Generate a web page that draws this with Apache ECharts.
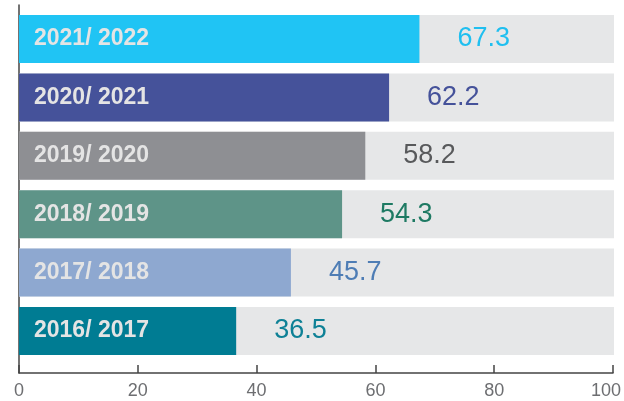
<!DOCTYPE html>
<html>
<head>
<meta charset="utf-8">
<script src="https://cdn.jsdelivr.net/npm/echarts@6/dist/echarts.min.js"></script>
<style>html,body{margin:0;padding:0;background:#fff;}#c{width:624px;height:401px;}</style>
</head>
<body>
<div id="c"></div>
<script>
const categories = ['2016/ 2017', '2017/ 2018', '2018/ 2019', '2019/ 2020', '2020/ 2021', '2021/ 2022'];
const values = [36.5, 45.7, 54.3, 58.2, 62.2, 67.3];
const barColors = ['#007C93', '#8EA8D0', '#5E9488', '#8E8F93', '#45529A', '#20C4F4'];
const labelColors = ['#0E8196', '#4E7DB5', '#1E7A63', '#58595B', '#45529A', '#1FBFF0'];
const xTicks = [0, 20, 40, 60, 80, 100];

const FONT = '"Liberation Sans", Arial, sans-serif';
const chart = echarts.init(document.getElementById('c'), null, {renderer: 'canvas'});
chart.setOption({
  animation: false,
  grid: [
    {left: 19, right: 10, top: 9.8, bottom: 40.8},
    {left: 19, right: 10, top: 5, bottom: 28}
  ],
  xAxis: [
    {gridIndex: 0, type: 'value', min: xTicks[0], max: xTicks[xTicks.length - 1], show: false},
    {
      gridIndex: 1, type: 'value', min: xTicks[0], max: xTicks[xTicks.length - 1], interval: 20,
      axisLine: {show: true, lineStyle: {color: '#444', width: 1.5}},
      axisTick: {show: true, inside: true, length: 8, lineStyle: {color: '#444', width: 1.5}},
      splitLine: {show: false},
      axisLabel: {
        color: '#6D6E71', fontSize: 18, fontFamily: FONT, margin: 9,
        formatter: function (v) { return v === 100 ? '{m|100}' : String(v); },
        rich: {m: {color: '#6D6E71', fontSize: 18, fontFamily: FONT, padding: [0, 14, 0, 0]}}
      }
    }
  ],
  yAxis: [
    {
      gridIndex: 0, type: 'category', data: categories, z: 10,
      axisLine: {show: false}, axisTick: {show: false},
      axisLabel: {inside: true, margin: 15, color: '#E4E4E4', fontSize: 23, fontWeight: 'bold', fontFamily: FONT, padding: [3, 0, 0, 0]}
    },
    {
      gridIndex: 1, type: 'value', min: 0, max: 1,
      axisLine: {show: true, lineStyle: {color: '#444', width: 1.5}},
      axisTick: {show: false}, axisLabel: {show: false}, splitLine: {show: false}
    }
  ],
  series: [{
    type: 'bar',
    xAxisIndex: 0, yAxisIndex: 0,
    barWidth: 48,
    showBackground: true,
    backgroundStyle: {color: '#E6E7E8'},
    data: values.map((v, i) => ({
      value: v,
      itemStyle: {color: barColors[i]},
      label: {color: labelColors[i]}
    })),
    label: {
      show: true, position: 'right', distance: 38,
      fontSize: 27, fontFamily: FONT, padding: [3, 0, 0, 0]
    }
  }]
});
</script>
</body>
</html>
